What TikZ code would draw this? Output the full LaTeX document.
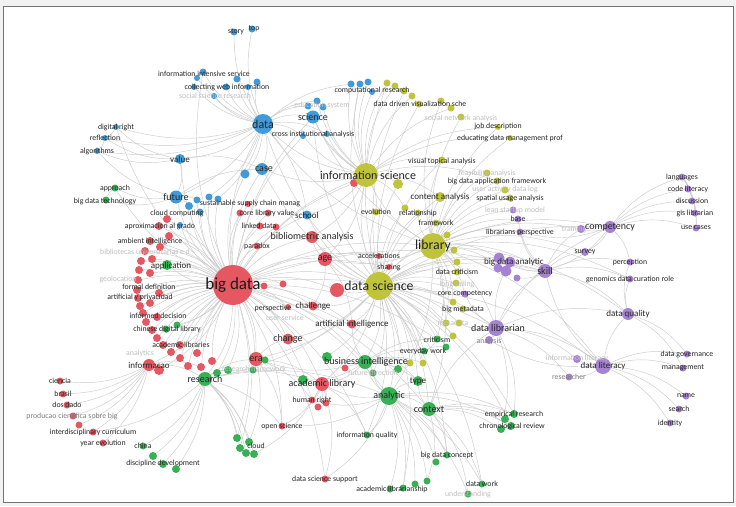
\documentclass[tikz,border=0pt]{standalone}
\usepackage{fontspec}
\setmainfont{Carlito}
\pgfdeclarelayer{edges}
\pgfdeclarelayer{front}
\pgfsetlayers{edges,main,front}
\definecolor{cR}{HTML}{E4505A}
\definecolor{cB}{HTML}{3796D7}
\definecolor{cY}{HTML}{BCC132}
\definecolor{cG}{HTML}{2EAD4C}
\definecolor{cP}{HTML}{A27CD0}
\tikzset{
  dot/.style={circle,inner sep=0pt,draw=none,fill opacity=0.95},
  edge/.style={draw=black!20,line width=0.45pt},
  ls/.style={inner sep=0pt,text=black!85,font=\fontsize{7.8}{8}\selectfont},
  lf/.style={ls,text=black!25},
  lg/.style={ls,text=black!50},
  lm/.style={inner sep=0pt,text=black!85,font=\fontsize{10}{11}\selectfont},
  lms/.style={inner sep=0pt,text=black!85,font=\fontsize{9}{10}\selectfont},
  lD/.style={inner sep=0pt,text=black!85,font=\fontsize{12}{13}\selectfont},
  lIS/.style={inner sep=0pt,text=black!85,font=\fontsize{12}{13}\selectfont},
  lL/.style={inner sep=0pt,text=black!85,font=\fontsize{13.8}{14}\selectfont},
  lXL/.style={inner sep=0pt,text=black!90,font=\fontsize{17}{18}\selectfont}
}
\newcommand\Dt[5]{\node[dot,fill=#4,minimum size=#5pt] (#1) at (#2,#3) {};}
\newcommand\Tx[5]{\node[#4] (#1) at (#2,#3) {#5};}
\begin{document}
\begin{tikzpicture}[x=1pt,y=-1pt]
\useasboundingbox (0,0) rectangle (736,506);
\begin{pgfonlayer}{edges}
\fill[black!5] (0,0) rectangle (736,506);
\draw[black!55,line width=1pt,fill=white] (3,6) rectangle (733,502);
\end{pgfonlayer}
% ---------- blue
\Dt{story}{234}{32}{cB}{7}
\Dt{top}{252}{29}{cB}{7}
\Dt{iis1}{197}{78}{cB}{6}
\Dt{iis}{203}{72}{cB}{7}
\Dt{iis2}{237}{79}{cB}{7}
\Dt{iis3}{248}{87}{cB}{6}
\Dt{iis4}{257}{82}{cB}{7}
\Dt{cwi}{226}{87}{cB}{7}
\Dt{cwi2}{194}{87}{cB}{6}
\Dt{ssr}{214}{96}{cB}{6}
\Dt{data}{263}{124}{cB}{20}
\Dt{sci}{313}{117}{cB}{13}
\Dt{sci1}{308}{106}{cB}{7}
\Dt{edu}{317}{101}{cB}{7}
\Dt{sci3}{323}{107}{cB}{7}
\Dt{cia}{303}{136}{cB}{6}
\Dt{cia2}{327}{134}{cB}{6}
\Dt{cr1}{351}{84}{cB}{7}
\Dt{cr2}{360}{84}{cB}{7}
\Dt{cr3}{368}{82}{cB}{7}
\Dt{cr4}{372}{92}{cB}{6}
\Dt{digr}{116}{127}{cB}{6}
\Dt{refl}{105}{138}{cB}{6}
\Dt{algo}{97}{151}{cB}{6}
\Dt{value}{180}{159}{cB}{10}
\Dt{case}{262}{169}{cB}{12}
\Dt{case2}{245}{174}{cB}{9}
\Dt{future}{176}{197}{cB}{13}
\Dt{b1}{189}{206}{cB}{8}
\Dt{b2}{197}{200}{cB}{7}
\Dt{b3}{209}{197}{cB}{7}
\Dt{b4}{218}{199}{cB}{7}
\Dt{b5}{200}{212}{cB}{7}
\Dt{b6}{180}{225}{cB}{6}
\Dt{school}{307}{215}{cB}{9}
% ---------- red
\Dt{bd}{233}{285}{cR}{40}
\Dt{bdr1}{264}{286}{cR}{7}
\Dt{bdr2}{283}{284}{cR}{7}
\Dt{sscr}{248}{204}{cR}{6}
\Dt{clv1}{240}{213}{cR}{7}
\Dt{clv2}{268}{213}{cR}{7}
\Dt{lnk}{260}{226}{cR}{7}
\Dt{lnk2}{276}{227}{cR}{7}
\Dt{par}{257}{246}{cR}{7}
\Dt{bib}{312}{237}{cR}{12}
\Dt{age}{325}{259}{cR}{14}
\Dt{rbig}{337}{290}{cR}{14}
\Dt{isr}{354}{183}{cR}{8}
\Dt{accel}{379}{256}{cR}{6}
\Dt{shar}{389}{267}{cR}{6}
\Dt{pers}{288}{307}{cR}{6}
\Dt{chal}{313}{306}{cR}{9}
\Dt{ai}{352}{324}{cR}{9}
\Dt{chg}{288}{339}{cR}{11}
\Dt{era}{256}{359}{cR}{14}
\Dt{rfd}{345}{368}{cR}{7}
\Dt{acl}{322}{384}{cR}{14}
\Dt{hr}{312}{400}{cR}{7}
\Dt{hr2}{326}{403}{cR}{7}
\Dt{hr3}{318}{407}{cR}{7}
\Dt{opsc}{282}{426}{cR}{7}
\Dt{dss}{325}{479}{cR}{7}
\Dt{infm}{149}{365}{cR}{12}
\Dt{infm2}{159}{370}{cR}{10}
\Dt{cien}{60}{381}{cR}{7}
\Dt{bra}{63}{394}{cR}{7}
\Dt{dos}{67}{405}{cR}{7}
\Dt{prod}{73}{416}{cR}{7}
\Dt{prod2}{79}{425}{cR}{7}
\Dt{idc}{93}{432}{cR}{7}
\Dt{ye}{103}{443}{cR}{7}
\foreach \n/\x/\y in {1/167/219,2/159/226,3/169/236,4/150/241,5/160/247,6/145/251,7/141/261,8/152/259,9/139/270,10/150/273,11/138/280,12/137/290,13/159/293,14/138/298,15/150/303,16/140/306,17/143/313,18/157/317,19/146/322,20/152/330,21/157/338,22/163/345,23/171/352,24/180/358,25/188/366,26/197/353,27/201/367,28/212/361,29/180/345}
  {\node[dot,fill=cR,minimum size=8pt] (r\n) at (\x,\y) {};}
% ---------- green
\Dt{appr}{115}{188}{cG}{7}
\Dt{bdt}{106}{200}{cG}{7}
\Dt{app}{167}{265}{cG}{10}
\Dt{cdl1}{166}{329}{cG}{7}
\Dt{cdl2}{177}{325}{cG}{7}
\Dt{res}{205}{379}{cG}{14}
\Dt{res2}{217}{373}{cG}{8}
\Dt{res3}{228}{370}{cG}{8}
\Dt{rfw}{253}{370}{cG}{7}
\Dt{erag}{265}{360}{cG}{7}
\Dt{china}{143}{446}{cG}{7}
\Dt{dd1}{153}{456}{cG}{8}
\Dt{dd2}{163}{464}{cG}{8}
\Dt{dd3}{176}{469}{cG}{8}
\Dt{cl1}{237}{438}{cG}{8}
\Dt{cl2}{249}{442}{cG}{8}
\Dt{cl3}{240}{448}{cG}{8}
\Dt{cl4}{246}{453}{cG}{8}
\Dt{cl5}{254}{454}{cG}{8}
\Dt{bi}{365}{362}{cG}{14}
\Dt{bi2}{327}{357}{cG}{10}
\Dt{bi3}{398}{369}{cG}{8}
\Dt{fd}{373}{373}{cG}{7}
\Dt{aclg}{303}{380}{cG}{10}
\Dt{analytic}{389}{396}{cG}{18}
\Dt{type}{418}{381}{cG}{10}
\Dt{context}{429}{409}{cG}{14}
\Dt{iq}{367}{435}{cG}{7}
\Dt{bdc}{447}{455}{cG}{7}
\Dt{bdc2}{436}{462}{cG}{7}
\Dt{as1}{390}{489}{cG}{7}
\Dt{as2}{403}{488}{cG}{7}
\Dt{as3}{415}{484}{cG}{7}
\Dt{as4}{427}{481}{cG}{7}
\Dt{dw}{482}{484}{cG}{7}
\Dt{und}{468}{494}{cG}{7}
\Dt{crit}{437}{339}{cG}{7}
\Dt{ew}{424}{351}{cG}{7}
\Dt{ew2}{446}{347}{cG}{7}
\Dt{emp}{514}{414}{cG}{8}
\Dt{emp2}{505}{419}{cG}{8}
\Dt{chr}{511}{426}{cG}{8}
\Dt{chr2}{501}{429}{cG}{8}
% ---------- yellow
\Dt{is}{366}{175}{cY}{24}
\Dt{isy}{398}{184}{cY}{10}
\foreach \n/\x/\y in {1/387/83,2/395/86,3/404/91,4/412/96,5/419/104,6/441/101,7/451/108,8/461/117}
  {\node[dot,fill=cY,minimum size=7pt] (y\n) at (\x,\y) {};}
\Dt{jd}{498}{127}{cY}{6}
\Dt{edm}{510}{138}{cY}{6}
\Dt{vta}{442}{160}{cY}{7}
\Dt{feas}{487}{173}{cY}{7}
\Dt{bdaf}{497}{181}{cY}{7}
\Dt{uadl}{505}{190}{cY}{7}
\Dt{sua}{510}{198}{cY}{7}
\Dt{ca}{440}{197}{cY}{10}
\Dt{evo}{376}{212}{cY}{7}
\Dt{rel}{418}{213}{cY}{7}
\Dt{rel2}{405}{208}{cY}{7}
\Dt{fw}{436}{223}{cY}{7}
\Dt{lib}{433}{246}{cY}{26}
\Dt{ly1}{447}{235}{cY}{7}
\Dt{ly2}{454}{250}{cY}{7}
\Dt{ly3}{457}{262}{cY}{7}
\Dt{ds}{379}{286}{cY}{28}
\Dt{dc}{457}{272}{cY}{7}
\Dt{lt}{456}{283}{cY}{7}
\Dt{bm1}{453}{302}{cY}{7}
\Dt{bm2}{463}{309}{cY}{7}
\Dt{md1}{446}{323}{cY}{7}
\Dt{md2}{459}{323}{cY}{7}
\Dt{yb1}{453}{336}{cY}{7}
\Dt{yb2}{410}{363}{cY}{7}
\Dt{yb3}{423}{363}{cY}{7}
% ---------- purple
\Dt{lsm}{513}{210}{cP}{7}
\Dt{base}{518}{219}{cP}{7}
\Dt{lp}{520}{232}{cP}{7}
\Dt{ccmp}{465}{294}{cP}{7}
\Dt{bda1}{499}{258}{cP}{11}
\Dt{bda2}{510}{262}{cP}{11}
\Dt{bda3}{506}{271}{cP}{11}
\Dt{bda4}{498}{268}{cP}{9}
\Dt{bda5}{517}{278}{cP}{7}
\Dt{skill}{545}{271}{cP}{14}
\Dt{train}{581}{229}{cP}{8}
\Dt{comp}{610}{227}{cP}{12}
\Dt{survey}{585}{252}{cP}{8}
\Dt{perc}{630}{262}{cP}{7}
\Dt{gdcr}{630}{279}{cP}{7}
\Dt{dq}{628}{314}{cP}{12}
\Dt{lang}{682}{177}{cP}{7}
\Dt{codel}{688}{189}{cP}{7}
\Dt{disc}{692}{201}{cP}{7}
\Dt{gis}{695}{213}{cP}{7}
\Dt{uc}{696}{228}{cP}{7}
\Dt{dlib}{496}{328}{cP}{16}
\Dt{ana}{489}{340}{cP}{8}
\Dt{dlit}{603}{366}{cP}{16}
\Dt{il}{577}{359}{cP}{8}
\Dt{rsch}{569}{377}{cP}{7}
\Dt{dg}{687}{354}{cP}{7}
\Dt{mgmt}{683}{368}{cP}{7}
\Dt{name}{686}{396}{cP}{7}
\Dt{srch}{679}{409}{cP}{7}
\Dt{idt}{670}{423}{cP}{7}
% ---------- edges
\begin{pgfonlayer}{edges}
\foreach \b in {data,case,case2,future,value,b1,b2,b3,b4,b5,b6,school,sscr,clv1,clv2,lnk,lnk2,par,bib,age,rbig,bdr1,bdr2,isr,accel,shar,pers,chal,ai,chg,era,acl,hr,opsc,dss,infm,infm2,res,res2,res3,rfw,app,cdl1,cdl2,is,ds,lib,bi,analytic,sci,cia,iis,cl1,cl3,appr,digr,context,type,iq,crit,dlib,skill}
  \draw[edge] (bd) to[bend left=16] (\b);
\foreach \i in {1,...,29} \draw[edge] (bd) to[bend right=12] (r\i);
\foreach \b in {is,lib,age,accel,shar,ai,bi,bi2,bi3,analytic,type,crit,ew,ew2,dc,lt,bm1,bm2,md1,md2,yb1,yb2,yb3,dlib,skill,bda1,bda2,ca,evo,rel,rel2,fw,vta,y1,y3,y5,chal,rbig,context,acl,era,chg,res,emp,chr,dw,as2,bdc,fd,iq,data,sci,case,school,bib,cr2,ccmp,ly1,ly2,ly3,isy,comp,dlit}
  \draw[edge] (ds) to[bend left=16] (\b);
\foreach \b in {is,bda1,bda3,skill,dlib,comp,base,lp,lsm,sua,bdaf,uadl,feas,ca,fw,rel,dc,md1,jd,edm,survey,train,dlit,ly1,ly2,ly3,vta,y6,y8,ccmp,bm1,age,data,sci,analytic,context,crit,gdcr,dq}
  \draw[edge] (lib) to[bend left=16] (\b);
\foreach \b in {data,sci,sci1,sci3,cr1,cr2,cr3,cr4,y1,y2,y4,y7,vta,ca,evo,isy,isr,case,age,bib,school,cia,cia2,edu,rel2,edm,jd,bdaf}
  \draw[edge] (is) to[bend left=16] (\b);
\foreach \b in {story,top,iis,iis1,iis2,iis3,iis4,cwi,cwi2,ssr,sci,case,value,future,cia,cia2,school,digr,refl,algo,edu,sci1,b3,b4,case2,cr1}
  \draw[edge] (data) to[bend left=16] (\b);
\foreach \a/\b in {value/digr,value/refl,value/algo,value/future,value/case,future/appr,future/bdt,future/b1,future/b2,future/case,future/algo,
  infm/cien,infm/bra,infm/dos,infm/prod,infm/prod2,infm/idc,infm/ye,infm/res,infm/r27,
  res/china,res/dd1,res/dd2,res/dd3,res/cl1,res/cl2,res/cl3,res/cl4,res/cl5,res/era,res/acl,res/analytic,res/idc,res/opsc,res/res2,res/res3,
  analytic/iq,analytic/context,analytic/bdc,analytic/bdc2,analytic/as1,analytic/as2,analytic/as3,analytic/as4,analytic/dw,analytic/und,analytic/bi,analytic/acl,analytic/emp,analytic/chr,analytic/type,analytic/hr,analytic/opsc,analytic/dss,analytic/fd,
  context/emp,context/emp2,context/chr,context/chr2,context/dlib,context/bdc,context/dw,context/und,context/type,context/as4,
  dlib/emp,dlib/chr2,dlib/dlit,dlib/ana,dlib/bda2,dlib/skill,dlib/comp,dlib/dq,dlib/md2,dlib/rsch,dlib/il,dlib/ccmp,
  dlit/dg,dlit/mgmt,dlit/name,dlit/srch,dlit/idt,dlit/il,dlit/rsch,dlit/dq,dlit/skill,dlit/ana,
  comp/lang,comp/codel,comp/disc,comp/gis,comp/uc,comp/train,comp/survey,comp/skill,comp/lp,comp/perc,
  skill/survey,skill/perc,skill/gdcr,skill/dq,skill/bda1,skill/bda2,skill/bda5,skill/lp,skill/base,skill/train,
  dq/dg,dq/mgmt,dq/perc,dq/gdcr,lang/codel,lang/disc,lang/gis,lang/uc,codel/uc,
  bi/bi2,bi/bi3,bi/fd,bi/ai,bi/era,bi/acl,bi/crit,bi/ew,bi/yb2,bi/yb3,bi/type,bi/aclg,
  era/erag,era/rfw,era/chg,era/acl,era/hr,era/opsc,era/cl2,
  acl/aclg,acl/hr,acl/hr2,acl/hr3,acl/opsc,acl/dss,acl/iq,acl/cl5,
  age/bib,age/accel,age/ai,age/chal,crit/ew,ew/ew2,bdt/appr,digr/refl,refl/algo}
  \draw[edge] (\a) to[bend left=16] (\b);
\end{pgfonlayer}
% ---------- labels
\begin{pgfonlayer}{front}
\Tx{story-t}{236}{32}{ls}{story}
\Tx{top-t}{254}{29}{ls}{top}
\Tx{iis-t}{204}{74}{ls}{information intensive service}
\Tx{cwi-t}{227}{87}{ls}{collecting web information}
\Tx{ssr-t}{215}{96}{lf}{social science research}
\Tx{data-t}{263}{124}{lD}{data}
\Tx{sci-t}{313}{117}{lm}{science}
\Tx{edu-t}{322}{105}{lf}{education system}
\Tx{cia-t}{313}{134}{ls}{cross institutional analysis}
\Tx{cr-t}{372}{90}{ls}{computational research}
\Tx{digr-t}{116}{127}{ls}{digital right}
\Tx{refl-t}{105}{138}{ls}{reflection}
\Tx{algo-t}{97}{151}{ls}{algorithms}
\Tx{value-t}{180}{159}{lms}{value}
\Tx{case-t}{264}{169}{lm}{case}
\Tx{future-t}{176}{197}{lm}{future}
\Tx{sscm-t}{250}{203}{ls}{sustainable supply chain manag}
\Tx{cc-t}{177}{213}{ls}{cloud computing}
\Tx{aprox-t}{160}{226}{ls}{aproximacion al grado}
\Tx{school-t}{307}{215}{lms}{school}
\Tx{clv-t}{267}{213}{ls}{core library value}
\Tx{lnk-t}{259}{226}{ls}{linked data}
\Tx{bib-t}{312}{237}{lm}{bibliometric analysis}
\Tx{par-t}{257}{246}{ls}{paradox}
\Tx{age-t}{325}{259}{lm}{age}
\Tx{amb-t}{150}{241}{ls}{ambient intelligence}
\Tx{bibu-t}{145}{252}{lf}{bibliotecas universitarias e d}
\Tx{app-t}{171}{266}{lms}{application}
\Tx{geo-t}{118}{279}{lf}{geolocation}
\Tx{form-t}{149}{287}{ls}{formal definition}
\Tx{art-t}{140}{297}{ls}{artificial y privacidad}
\Tx{infd-t}{158}{316}{ls}{informed decision}
\Tx{cdl-t}{167}{329}{ls}{chinese digital library}
\Tx{acls-t}{181}{345}{ls}{academic libraries}
\Tx{anl-t}{140}{353}{lf}{analytics}
\Tx{infm-t}{149}{365}{lms}{informacao}
\Tx{res-t}{205}{379}{lm}{research}
\Tx{rfw-t}{254}{369}{lf}{research framework}
\Tx{bd-t}{233}{285}{lXL}{big data}
\Tx{pers-t}{273}{308}{ls}{perspective}
\Tx{usr-t}{285}{318}{lf}{user service}
\Tx{chal-t}{313}{306}{lms}{challenge}
\Tx{accel-t}{379}{256}{ls}{accelerations}
\Tx{shar-t}{389}{267}{ls}{sharing}
\Tx{ds-t}{379}{286}{lL}{data science}
\Tx{is-t}{368}{175}{lIS}{information science}
\Tx{lib-t}{433}{246}{lL}{library}
\Tx{ai-t}{352}{324}{lms}{artificial intelligence}
\Tx{chg-t}{288}{339}{lm}{change}
\Tx{era-t}{256}{359}{lm}{era}
\Tx{bi-t}{366}{362}{lm}{business intelligence}
\Tx{fd-t}{373}{373}{lf}{future direction}
\Tx{acl-t}{322}{384}{lm}{academic library}
\Tx{hr-t}{312}{400}{ls}{human right}
\Tx{analytic-t}{389}{396}{lm}{analytic}
\Tx{type-t}{418}{381}{lms}{type}
\Tx{context-t}{429}{409}{lm}{context}
\Tx{opsc-t}{282}{426}{ls}{open science}
\Tx{iq-t}{367}{435}{ls}{information quality}
\Tx{bdc-t}{447}{455}{ls}{big data concept}
\Tx{cloud-t}{256}{446}{ls}{cloud}
\Tx{dss-t}{325}{479}{ls}{data science support}
\Tx{as-t}{392}{489}{ls}{academic librarianship}
\Tx{dw-t}{482}{484}{ls}{data work}
\Tx{und-t}{468}{494}{lf}{understanding}
\Tx{crit-t}{437}{340}{ls}{criticism}
\Tx{ew-t}{423}{351}{ls}{everyday work}
\Tx{emp-t}{514}{414}{ls}{empirical research}
\Tx{chr-t}{512}{426}{ls}{chronological review}
\Tx{china-t}{143}{446}{ls}{china}
\Tx{dd-t}{163}{463}{ls}{discipline development}
\Tx{cien-t}{60}{381}{ls}{ciencia}
\Tx{bra-t}{63}{394}{ls}{brasil}
\Tx{dos-t}{67}{405}{ls}{dos dado}
\Tx{prod-t}{72}{416}{lg}{producao cientifica sobre big}
\Tx{idc-t}{93}{432}{ls}{interdisciplinary curriculum}
\Tx{ye-t}{103}{443}{ls}{year evolution}
\Tx{appr-t}{115}{188}{ls}{approach}
\Tx{bdt-t}{105}{201}{ls}{big data technology}
\Tx{ddvs-t}{420}{104}{ls}{data driven visualization sche}
\Tx{sna-t}{461}{118}{lf}{social network analysis}
\Tx{jd-t}{498}{126}{ls}{job description}
\Tx{edm-t}{510}{138}{ls}{educating data management prof}
\Tx{vta-t}{442}{161}{ls}{visual topical analysis}
\Tx{feas-t}{487}{173}{lf}{feasibility analysis}
\Tx{bdaf-t}{497}{181}{ls}{big data application framework}
\Tx{uadl-t}{505}{189}{lf}{user activity data log}
\Tx{sua-t}{510}{198}{ls}{spatial usage analysis}
\Tx{ca-t}{440}{197}{lms}{content analysis}
\Tx{evo-t}{376}{212}{ls}{evolution}
\Tx{rel-t}{418}{213}{ls}{relationship}
\Tx{fw-t}{436}{223}{ls}{framework}
\Tx{dc-t}{457}{272}{ls}{data criticism}
\Tx{lt-t}{457}{284}{lf}{long tailing}
\Tx{ccmp-t}{465}{294}{ls}{core competency}
\Tx{bm-t}{463}{309}{ls}{big metadata}
\Tx{md-t}{453}{323}{lf}{metadata}
\Tx{lsm-t}{515}{210}{lf}{lean startup model}
\Tx{base-t}{518}{219}{ls}{base}
\Tx{lp-t}{520}{232}{ls}{librarians perspective}
\Tx{bda-t}{514}{262}{lms}{big data analytic}
\Tx{skill-t}{545}{271}{lm}{skill}
\Tx{train-t}{574}{229}{lf}{training}
\Tx{comp-t}{610}{227}{lm}{competency}
\Tx{survey-t}{585}{252}{ls}{survey}
\Tx{perc-t}{630}{262}{ls}{perception}
\Tx{gdcr-t}{630}{279}{ls}{genomics data curation role}
\Tx{dq-t}{628}{314}{lms}{data quality}
\Tx{lang-t}{682}{177}{ls}{languages}
\Tx{codel-t}{688}{189}{ls}{code literacy}
\Tx{disc-t}{692}{201}{ls}{discussion}
\Tx{gis-t}{695}{213}{ls}{gis librarian}
\Tx{uc-t}{696}{228}{ls}{use cases}
\Tx{dlib-t}{498}{328}{lm}{data librarian}
\Tx{ana-t}{489}{341}{lg}{analysis}
\Tx{dlit-t}{603}{366}{lms}{data literacy}
\Tx{il-t}{577}{358}{lf}{information literacy}
\Tx{rsch-t}{569}{377}{lg}{researcher}
\Tx{dg-t}{687}{354}{ls}{data governance}
\Tx{mgmt-t}{683}{368}{ls}{management}
\Tx{name-t}{686}{396}{ls}{name}
\Tx{srch-t}{679}{409}{ls}{search}
\Tx{idt-t}{670}{423}{ls}{identity}
\end{pgfonlayer}
\end{tikzpicture}
\end{document}
